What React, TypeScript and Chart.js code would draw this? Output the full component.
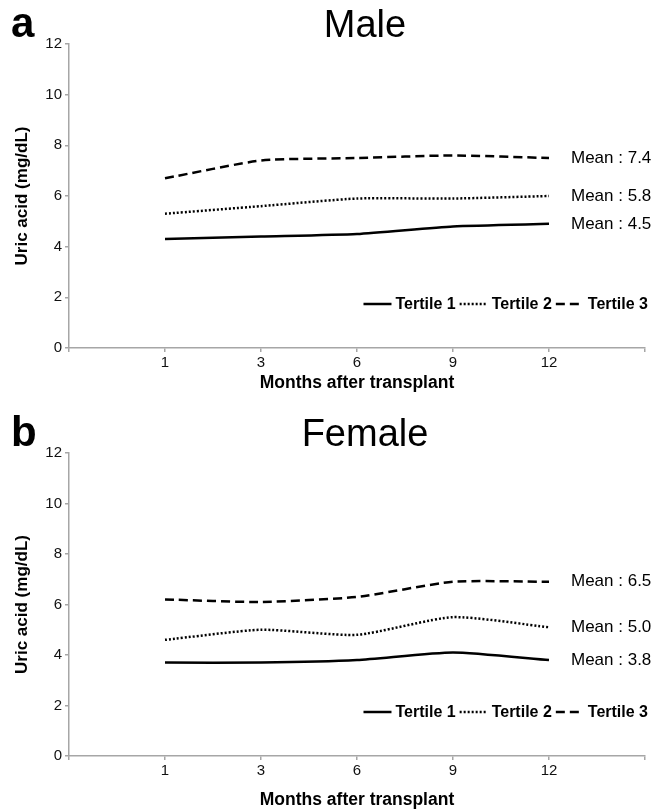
import React, { useEffect, useRef } from 'react';
import { Chart, registerables } from 'chart.js';

Chart.register(...registerables);

const FAMILY = '"Liberation Sans", Arial, Helvetica, sans-serif';

const MONTHS = ['1', '3', '6', '9', '12'];
const TERTILES = ['Tertile 1', 'Tertile 2', 'Tertile 3'];
const Y_TICKS = [0, 2, 4, 6, 8, 10, 12];

const MALE_T1 = [4.3, 4.4, 4.5, 4.8, 4.9];
const MALE_T2 = [5.3, 5.6, 5.9, 5.9, 6.0];
const MALE_T3 = [6.7, 7.4, 7.5, 7.6, 7.5];
const MALE_MEANS = [4.5, 5.8, 7.4];

const FEMALE_T1 = [3.7, 3.7, 3.8, 4.1, 3.8];
const FEMALE_T2 = [4.6, 5.0, 4.8, 5.5, 5.1];
const FEMALE_T3 = [6.2, 6.1, 6.3, 6.9, 6.9];
const FEMALE_MEANS = [3.8, 5.0, 6.5];

const DASHES = [[], [2, 2], [9, 5]];
const AXIS_GRAY = '#a6a6a6';

const decoPlugin = {
  id: 'panelDeco',
  afterDatasetsDraw(chart: any, _args: any, opts: any) {
    const ctx = chart.ctx;
    const ca = chart.chartArea;
    ctx.save();

    // Mean labels next to the end of each line
    ctx.font = `17px ${FAMILY}`;
    ctx.fillStyle = '#000';
    ctx.textBaseline = 'middle';
    ctx.textAlign = 'left';
    chart.data.datasets.forEach((_ds: any, i: number) => {
      const meta = chart.getDatasetMeta(i);
      const pts = meta.data.filter((p: any) => !p.skip);
      const last = pts[pts.length - 1];
      if (!last) return;
      ctx.fillText(`Mean : ${opts.means[i].toFixed(1)}`, last.x + 22, last.y);
    });

    // Legend (bottom-right inside the plot)
    ctx.font = `bold 16px ${FAMILY}`;
    const sampleW = 28;
    const gap = 4;
    const items = chart.data.datasets.map((ds: any) => ({
      ds,
      w: ctx.measureText(ds.label).width,
    }));
    const total = items.reduce((a: number, it: any) => a + sampleW + gap + it.w, 0) + gap * (items.length - 1);
    let x = ca.right + 3 - total;
    const ly = ca.bottom - 44;
    items.forEach((it: any) => {
      ctx.beginPath();
      ctx.setLineDash(it.ds.borderDash || []);
      ctx.lineWidth = it.ds.borderWidth;
      ctx.strokeStyle = it.ds.borderColor;
      ctx.moveTo(x, ly);
      ctx.lineTo(x + sampleW, ly);
      ctx.stroke();
      ctx.setLineDash([]);
      ctx.fillText(it.ds.label, x + sampleW + gap, ly + 1);
      x += sampleW + gap + it.w + gap;
    });

    // Title and panel letter
    ctx.textBaseline = 'alphabetic';
    ctx.textAlign = 'center';
    ctx.font = `38px ${FAMILY}`;
    ctx.fillText(opts.title, (ca.left + ca.right) / 2 + 8, ca.top - 7);
    ctx.textAlign = 'left';
    ctx.font = `bold 42px ${FAMILY}`;
    ctx.fillText(opts.letter, 11, ca.top - 7);

    ctx.restore();
  },
};

function makeConfig(
  letter: string,
  title: string,
  series: number[][],
  means: number[],
  topPad: number,
  xAxisH: number,
  xTitlePad: number
): any {
  return {
    type: 'line',
    data: {
      labels: ['', ...MONTHS, ''],
      datasets: series.map((s, i) => ({
        label: TERTILES[i],
        data: [null, ...s, null],
        borderColor: '#000',
        borderWidth: 2.5,
        borderDash: DASHES[i],
        pointRadius: 0,
        tension: 0.2,
        fill: false,
        spanGaps: false,
      })),
    },
    options: {
      responsive: false,
      animation: false,
      layout: { padding: { top: topPad, right: 10, left: 0, bottom: 0 } },
      plugins: {
        legend: { display: false },
        tooltip: { enabled: false },
        panelDeco: { letter, title, means },
      },
      scales: {
        x: {
          type: 'category',
          offset: false,
          grid: { drawOnChartArea: false, drawTicks: true, tickLength: 4, color: AXIS_GRAY, lineWidth: 1.5 },
          border: { color: AXIS_GRAY, width: 1.5 },
          ticks: {
            padding: 2,
            color: '#111',
            autoSkip: false,
            maxRotation: 0,
            font: { size: 15, family: FAMILY },
          },
          title: {
            display: true,
            text: 'Months after transplant',
            color: '#000',
            font: { size: 17.5, weight: 'bold', family: FAMILY, lineHeight: 1 },
            padding: { top: 0, bottom: xTitlePad },
          },
          afterFit: (s: any) => {
            s.height = xAxisH;
          },
        },
        y: {
          min: 0,
          max: 12,
          grid: { drawOnChartArea: false, drawTicks: true, tickLength: 4, color: AXIS_GRAY, lineWidth: 1.5 },
          border: { color: AXIS_GRAY, width: 1.5 },
          afterBuildTicks: (s: any) => {
            s.ticks = Y_TICKS.map((v) => ({ value: v }));
          },
          ticks: {
            padding: 3,
            color: '#111',
            font: { size: 15, family: FAMILY },
          },
          title: {
            display: true,
            text: 'Uric acid (mg/dL)',
            color: '#000',
            font: { size: 17, weight: 'bold', family: FAMILY, lineHeight: 1 },
            padding: { top: 14, bottom: 0 },
          },
          afterFit: (s: any) => {
            s.width = 69;
          },
        },
      },
    },
    plugins: [decoPlugin],
  };
}

function Panel({ top, height, config }: { top: number; height: number; config: () => any }) {
  const ref = useRef<HTMLCanvasElement | null>(null);
  useEffect(() => {
    if (!ref.current) return;
    const chart = new Chart(ref.current, config());
    return () => chart.destroy();
  }, []);
  return (
    <canvas
      ref={ref}
      width={655}
      height={height}
      style={{ position: 'absolute', left: 0, top, width: 655, height }}
    />
  );
}

export default function App() {
  return (
    <div style={{ position: 'absolute', left: 0, top: 0, width: 655, height: 809, background: '#fff' }}>
      <Panel
        top={0}
        height={400}
        config={() => makeConfig('a', 'Male', [MALE_T1, MALE_T2, MALE_T3], MALE_MEANS, 44, 52, 8)}
      />
      <Panel
        top={400}
        height={409}
        config={() => makeConfig('b', 'Female', [FEMALE_T1, FEMALE_T2, FEMALE_T3], FEMALE_MEANS, 53, 53, 0.5)}
      />
    </div>
  );
}
